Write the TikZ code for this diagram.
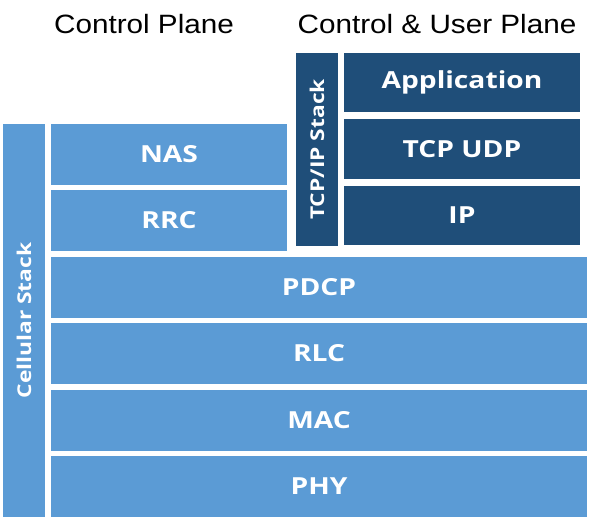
\documentclass[tikz,border=0pt]{standalone}
\usepackage{fontspec}
\setmainfont{Liberation Sans}
\newfontfamily\titlefont[FakeStretch=1.12]{Liberation Sans}
\newfontfamily\boxfont[FakeStretch=1.2]{Open Sans}
\definecolor{lightblue}{HTML}{5B9BD5}
\definecolor{darkblue}{HTML}{1F4E79}
\begin{document}
\begin{tikzpicture}[x=1pt,y=-1pt,
  layer/.style={fill=lightblue,draw=none,text=white,font=\boxfont\bfseries\fontsize{23.5}{26}\selectfont},
  dlayer/.style={fill=darkblue,draw=none,text=white,font=\boxfont\bfseries\fontsize{23.5}{26}\selectfont},
  vlabel/.style={text=white,font=\boxfont\bfseries\fontsize{19}{22}\selectfont,rotate=90},
  title/.style={font=\titlefont\fontsize{26.5}{30}\selectfont,anchor=base}]
\useasboundingbox (0,0) rectangle (590,518);
% boxes
\fill[lightblue] (3,124) rectangle (45,517);
\node[vlabel] (cell) at (24,320.5) {Cellular Stack};
\fill[darkblue] (296,53) rectangle (338,246);
\node[vlabel] (tcpip) at (317,149.5) {TCP/IP Stack};
\fill[layer] (51,124) rectangle (287,185);
\node[layer,fill=none] (nas) at (169,154.5) {NAS};
\fill[layer] (51,190) rectangle (287,251);
\node[layer,fill=none] (rrc) at (169,220.5) {RRC};
\fill[dlayer] (344,53) rectangle (580,112);
\node[dlayer,fill=none] (app) at (462,82.5) {Application};
\fill[dlayer] (344,119) rectangle (580,179);
\node[dlayer,fill=none] (tcp) at (462,149) {TCP UDP};
\fill[dlayer] (344,186) rectangle (580,245);
\node[dlayer,fill=none] (ip) at (462,215.5) {IP};
\fill[layer] (51,257) rectangle (587,318);
\node[layer,fill=none] (pdcp) at (319,287.5) {PDCP};
\fill[layer] (51,323) rectangle (587,384);
\node[layer,fill=none] (rlc) at (319,353.5) {RLC};
\fill[layer] (51,390) rectangle (587,451);
\node[layer,fill=none] (mac) at (319,420.5) {MAC};
\fill[layer] (51,456) rectangle (587,517);
\node[layer,fill=none] (phy) at (319,486.5) {PHY};
% titles
\node[title] (cp) at (144,34) {Control Plane};
\node[title] (cup) at (437,34) {Control \& User Plane};
\end{tikzpicture}
\end{document}
